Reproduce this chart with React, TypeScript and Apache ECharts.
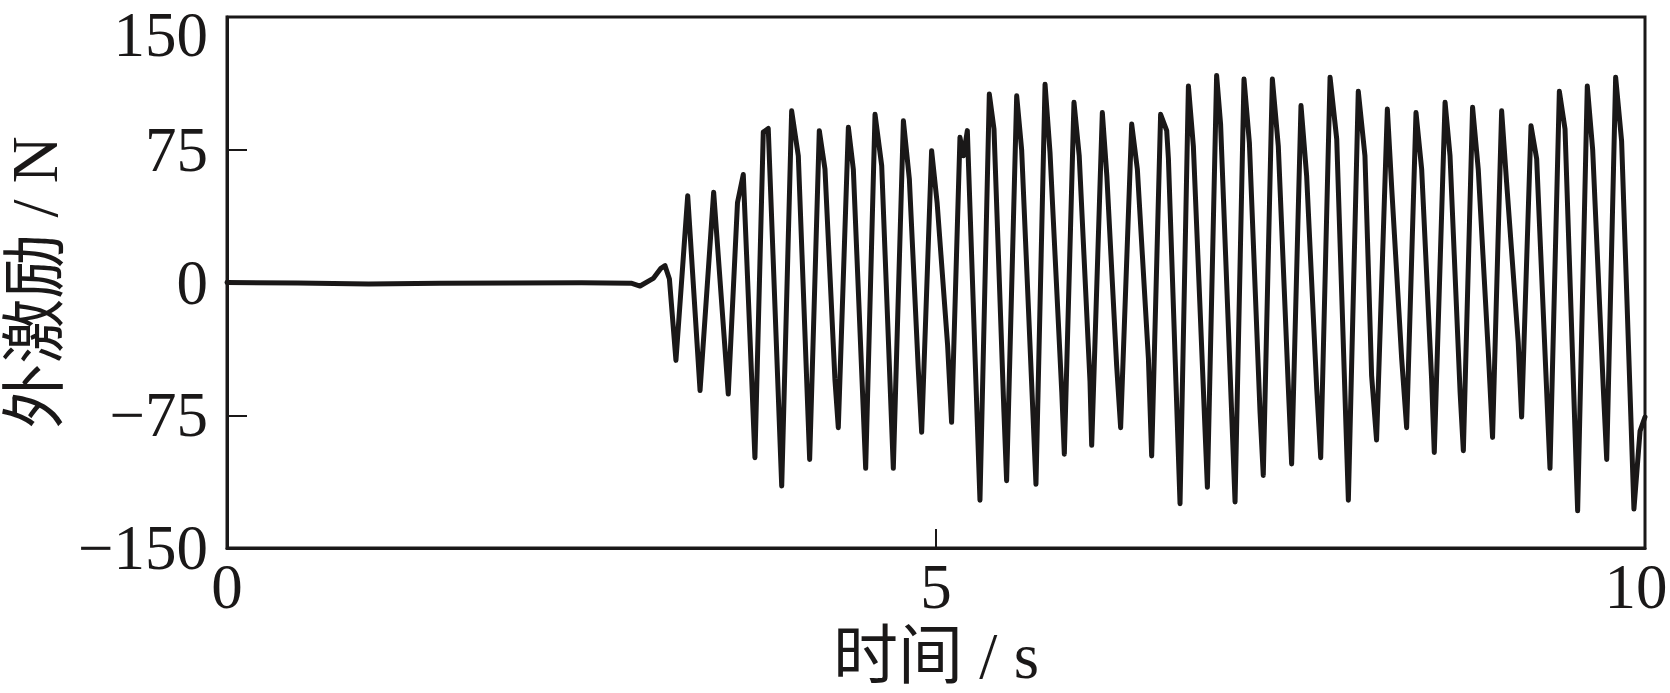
import React, { useEffect, useRef } from "react";
import * as echarts from "echarts";

const times: number[] = [
  0, 0.5, 1.0, 1.5, 2.0, 2.5, 2.85, 2.913, 3.006, 3.06, 3.089, 3.12, 3.166,
  3.249, 3.336, 3.432, 3.535, 3.6, 3.641, 3.723, 3.782, 3.817, 3.912, 3.982,
  4.029, 4.109, 4.177, 4.217, 4.287, 4.311, 4.382, 4.417, 4.504, 4.57, 4.617,
  4.699, 4.77, 4.812, 4.875, 4.899, 4.969, 5.008, 5.082, 5.11, 5.169, 5.193,
  5.221, 5.31, 5.376, 5.409, 5.479, 5.498, 5.569, 5.604, 5.705, 5.769, 5.804,
  5.887, 5.905, 5.973, 6.01, 6.086, 6.098, 6.173, 6.205, 6.274, 6.302, 6.38,
  6.42, 6.498, 6.521, 6.584, 6.627, 6.639, 6.721, 6.78, 6.815, 6.914, 6.979,
  7.007, 7.109, 7.172, 7.21, 7.285, 7.308, 7.372, 7.414, 7.484, 7.508, 7.574,
  7.614, 7.685, 7.713, 7.779, 7.826, 7.908, 7.978, 8.025, 8.072, 8.107, 8.183,
  8.214, 8.284, 8.319, 8.385, 8.425, 8.495, 8.514, 8.59, 8.625, 8.696, 8.719,
  8.784, 8.824, 8.895, 8.925, 8.989, 9.024, 9.106, 9.13, 9.196, 9.236, 9.33,
  9.396, 9.436, 9.525, 9.593, 9.631, 9.706, 9.73, 9.793, 9.835, 9.922, 9.965,
  10,
];

const forces: number[] = [
  0, -0.3, -0.8, -0.4, -0.3, -0.2, -0.4, -2, 2.3, 8, 9.5, 2, -44,
  49, -61, 51, -63, 45, 61, -99, 85, 87, -115, 97,
  71.6, -100, 85.8, 64, -54.5, -82, 87.7, 64, -105, 95, 66,
  -105, 91.4, 58.5, -49, -84.6, 74.5, 45, -35.7, -79, 82, 71.6,
  85.8, -123, 106.5, 86.7, -73, -112, 105.5, 75, -114, 112, 73.5,
  -62, -97, 101.8, 71.6, -56, -92, 96, 60, -47, -82, 89.5,
  64, -43, -98, 95, 85.8, 70, -125, 111, 77, -115.7, 117,
  89.5, -124, 115, 79, -73, -109, 115, 77, -58, -102.5, 100,
  60, -60, -99, 116, 81, -123, 108, 71.6, -52.6, -89, 98,
  53, -43, -82, 96, 64, -54.5, -96, 101.8, 71.6, -62, -95,
  99, 64, -39.5, -87.5, 97, 56.6, -33.8, -76, 88.6, 69.8, -105,
  108, 86.7, -129, 111, 75, -60, -100, 116, 80, -128, -84,
  -76,
];

const xTicks: number[] = [0, 5, 10];
const yTicks: number[] = [-150, -75, 0, 75, 150];

const FONT = '"Liberation Serif", "Times New Roman", "Noto Sans CJK SC", serif';
const INK = "#1a1818";
const LABEL_SIZE = 63;
const NAME_SIZE = 65;

export default function App() {
  const ref = useRef<HTMLDivElement>(null);
  useEffect(() => {
    if (!ref.current) return;
    const chart = echarts.init(ref.current, undefined, { renderer: "svg" });
    const data = times.map((t, i) => [t, forces[i]]);
    const labelText = { fontFamily: FONT, fontSize: LABEL_SIZE, color: INK };
    chart.setOption({
      animation: false,
      backgroundColor: "#ffffff",
      grid: {
        left: 227,
        right: 25,
        top: 17,
        bottom: 145,
        show: true,
        borderColor: INK,
        borderWidth: 3,
        containLabel: false,
        outerBoundsMode: "none",
      },
      xAxis: {
        type: "value",
        min: xTicks[0],
        max: xTicks[xTicks.length - 1],
        interval: 5,
        name: "时间 / s",
        nameLocation: "middle",
        nameGap: 77,
        nameTextStyle: { fontFamily: FONT, fontSize: NAME_SIZE, color: INK, lineHeight: 60 },
        axisLine: { show: true, onZero: false, lineStyle: { color: INK, width: 3 } },
        axisTick: { show: true, inside: true, length: 19, lineStyle: { color: INK, width: 2 } },
        axisLabel: {
          margin: 14,
          ...labelText,
          lineHeight: 50,
          formatter: (v: number) => (v === 10 ? "{r|10}" : String(v)),
          rich: {
            r: { ...labelText, lineHeight: 50, padding: [0, 18, 0, 0] },
          },
        },
        splitLine: { show: false },
      },
      yAxis: {
        type: "value",
        min: yTicks[0],
        max: yTicks[yTicks.length - 1],
        interval: 75,
        name: "外激励 / N",
        nameLocation: "middle",
        nameRotate: 90,
        nameGap: 158,
        nameTextStyle: { fontFamily: FONT, fontSize: NAME_SIZE, color: INK, lineHeight: 62 },
        axisLine: { show: true, onZero: false, lineStyle: { color: INK, width: 3 } },
        axisTick: { show: true, inside: true, length: 20, lineStyle: { color: INK, width: 2 } },
        axisLabel: {
          margin: 19,
          ...labelText,
          lineHeight: 46,
          formatter: (v: number) => {
            const s = v < 0 ? "\u2212" + Math.abs(v) : String(v);
            return v === 150 ? "{t|" + s + "}" : s;
          },
          rich: {
            t: { ...labelText, lineHeight: 22, padding: [36, 0, 0, 0] },
          },
        },
        splitLine: { show: false },
      },
      series: [
        {
          type: "line",
          data,
          showSymbol: false,
          symbol: "none",
          lineStyle: { color: INK, width: 5, join: "round", cap: "round" },
          z: 1,
        },
      ],
    });
    return () => chart.dispose();
  }, []);
  return (
    <div
      ref={ref}
      style={{ position: "fixed", left: 0, top: 0, width: 1670, height: 693, background: "#fff" }}
    />
  );
}
